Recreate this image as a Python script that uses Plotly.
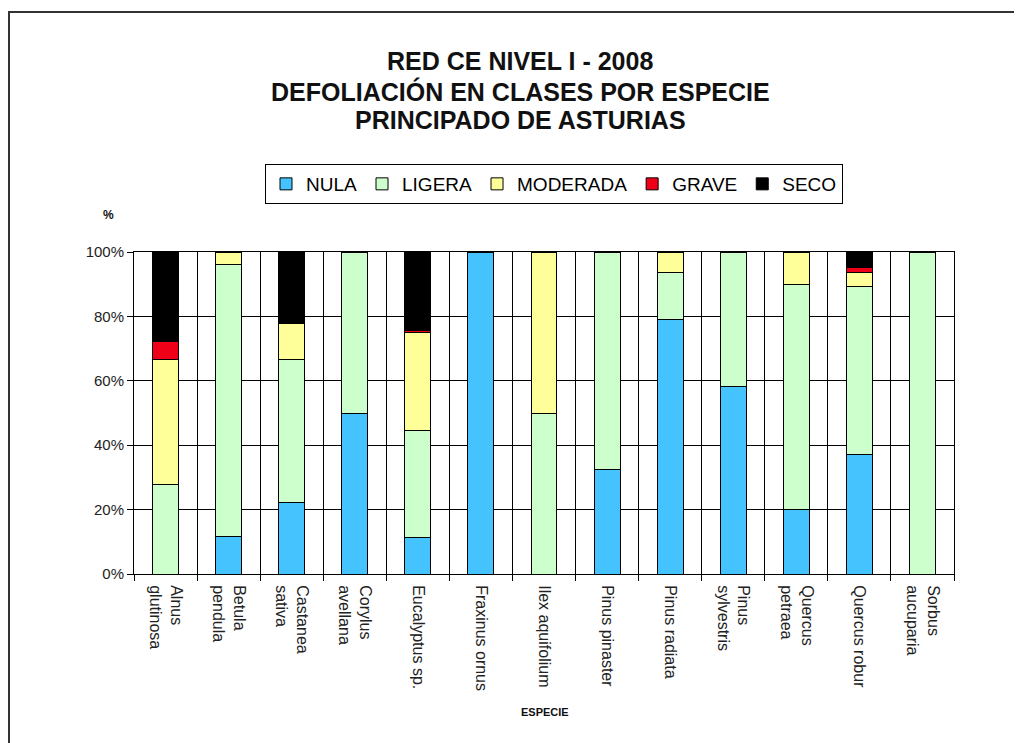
import plotly.graph_objects as go

species = ["Alnus<br>glutinosa", "Betula<br>pendula", "Castanea<br>sativa", "Corylus<br>avellana",
           "Eucalyptus sp.", "Fraxinus ornus", "Ilex aquifolium", "Pinus pinaster",
           "Pinus radiata", "Pinus<br>sylvestris", "Quercus<br>petraea", "Quercus robur",
           "Sorbus<br>aucuparia"]

nula     = [0.0, 11.8, 22.2, 50.0, 11.2, 100.0, 0.0, 32.3, 78.9, 58.2, 20.0, 37.0, 0.0]
ligera   = [27.8, 84.2, 44.4, 50.0, 33.3, 0.0, 50.0, 67.7, 14.8, 41.8, 70.0, 52.2, 100.0]
moderada = [38.9, 4.0, 11.1, 0.0, 30.4, 0.0, 50.0, 0.0, 6.3, 0.0, 10.0, 4.5, 0.0]
grave    = [5.6, 0.0, 0.0, 0.0, 0.8, 0.0, 0.0, 0.0, 0.0, 0.0, 0.0, 1.5, 0.0]
seco     = [27.7, 0.0, 22.3, 0.0, 24.3, 0.0, 0.0, 0.0, 0.0, 0.0, 0.0, 4.8, 0.0]

series = [("NULA", nula, "#45C3FF"), ("LIGERA", ligera, "#CCFFCC"),
          ("MODERADA", moderada, "#FFFF99"), ("GRAVE", grave, "#F00018"),
          ("SECO", seco, "#000000")]

title_lines = ["RED CE NIVEL I - 2008", "DEFOLIACIÓN EN CLASES POR ESPECIE", "PRINCIPADO DE ASTURIAS"]
y_ticks = [0, 20, 40, 60, 80, 100]
y_labels = ["0%", "20%", "40%", "60%", "80%", "100%"]

FONT = "Liberation Sans, Arial, sans-serif"

fig = go.Figure()
for name, vals, col in series:
    fig.add_trace(go.Bar(x=species, y=vals, name=name,
                         marker=dict(color=col, line=dict(color="#000000", width=1))))

# page offset of the figure (HTML body margin)
OX, OY = 8, 8
W, H = 1014, 735
PL, PT, PR, PB = 134, 252, 954, 574   # plot area in page pixels
L, T = PL - OX, PT - OY
R, B = W - (PR - OX), H - (PB - OY)
pw, ph = PR - PL, PB - PT

def px(x):
    return (x - PL) / pw

def py(y):
    return (PB - y) / ph

fig.update_layout(
    barmode="stack", bargap=0.59,
    width=W, height=H, autosize=False,
    margin=dict(l=L, r=R, t=T, b=B),
    plot_bgcolor="white", paper_bgcolor="white",
    font=dict(family=FONT, color="#000000"),
    legend=dict(orientation="h", x=px(554), xanchor="center", y=py(164), yanchor="top",
                font=dict(size=19, family=FONT, color="#000000"),
                bordercolor="#000000", borderwidth=1, itemwidth=30,
                traceorder="normal", bgcolor="white"),
    showlegend=True,
)

fig.update_xaxes(type="category", tickson="boundaries", showgrid=True, gridcolor="#000000",
                 gridwidth=1, showline=True, linecolor="#000000", linewidth=1, mirror=True,
                 ticks="outside", ticklen=6, tickcolor="#000000", tickangle=90,
                 ticklabelstandoff=7,
                 tickfont=dict(size=16, family=FONT, color="#222222"))
fig.update_yaxes(range=[0, 100], tickvals=y_ticks, ticktext=y_labels, showgrid=True,
                 gridcolor="#000000", gridwidth=1, showline=True, linecolor="#000000",
                 linewidth=1, mirror=True, ticks="outside", ticklen=6, tickcolor="#000000",
                 tickfont=dict(size=15, family=FONT, color="#222222"), zeroline=False)

for txt, yc in zip(title_lines, [61.5, 91, 120]):
    fig.add_annotation(text="<b>%s</b>" % txt, xref="paper", yref="paper", x=px(520), y=py(yc),
                       xanchor="center", yanchor="middle", showarrow=False,
                       font=dict(size=25, family=FONT, color="#111111"))

fig.add_annotation(text="<b>%</b>", xref="paper", yref="paper", x=px(108), y=py(215),
                   xanchor="center", yanchor="middle", showarrow=False,
                   font=dict(size=12, family=FONT, color="#111111"))
fig.add_annotation(text="<b>ESPECIE</b>", xref="paper", yref="paper", x=px(545), y=py(712),
                   xanchor="center", yanchor="middle", showarrow=False,
                   font=dict(size=11, family=FONT, color="#111111"))

fig.add_shape(type="rect", xref="paper", yref="paper", x0=px(9), x1=px(1040), y0=py(760), y1=py(12),
              line=dict(color="#333333", width=2), fillcolor="rgba(0,0,0,0)", layer="below")

fig.write_html("out.html")
